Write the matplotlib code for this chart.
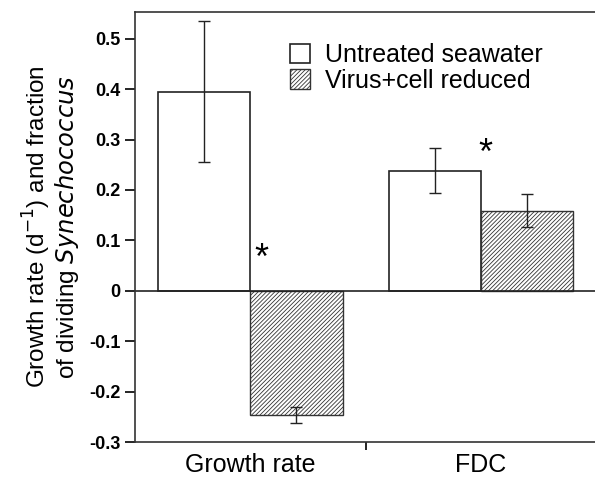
import matplotlib.pyplot as plt
import numpy as np

plt.rcParams['font.family'] = ['Liberation Sans', 'DejaVu Sans']
plt.rcParams['hatch.linewidth'] = 0.6

groups = ['Growth rate', 'FDC']
series = ['Untreated seawater', 'Virus+cell reduced']
untreated = [0.395, 0.238]
untreated_err = [0.14, 0.045]
reduced = [-0.247, 0.159]
reduced_err = [0.016, 0.033]
stars = [(0.05, 0.062), (1.02, 0.27)]

fig = plt.figure(figsize=(5.95, 4.78), dpi=100)
ax = fig.add_axes([0.227, 0.0753, 0.775, 0.8996])

x = np.arange(len(groups))
w = 0.4
ax.bar(x - w / 2, untreated, w, yerr=untreated_err, color='white', edgecolor='#222222',
       linewidth=1.2, capsize=4, error_kw={'elinewidth': 1, 'capthick': 1, 'ecolor': '#222222'},
       label=series[0])
ax.bar(x + w / 2, reduced, w, yerr=reduced_err, color='white', edgecolor='#333333',
       hatch='////////', linewidth=1.0, capsize=4,
       error_kw={'elinewidth': 1, 'capthick': 1, 'ecolor': '#222222'}, label=series[1])
ax.axhline(0, color='#222222', linewidth=1.2)

for sx, sy in stars:
    ax.text(sx, sy, '*', fontsize=26, ha='center', va='center')

ax.set_xlim(-0.5, 1.5)
ax.set_ylim(-0.3, 0.553)
ax.set_yticks([-0.3, -0.2, -0.1, 0, 0.1, 0.2, 0.3, 0.4, 0.5])
ax.set_yticklabels(['-0.3', '-0.2', '-0.1', '0', '0.1', '0.2', '0.3', '0.4', '0.5'],
                   fontsize=13, fontweight='bold')
ax.set_xticks([0.5])
ax.set_xticklabels([''])
ax.tick_params(axis='y', length=7, width=1.2, direction='out')
ax.tick_params(axis='x', length=6, width=1.2, direction='out')
for i, g in enumerate(groups):
    ax.text(i, -0.322, g, fontsize=18, ha='center', va='top')

ax.spines['right'].set_visible(False)
for s in ['left', 'bottom', 'top']:
    ax.spines[s].set_linewidth(1.2)
    ax.spines[s].set_color('#333333')

ax.set_ylabel('Growth rate (d$^{-1}$) and fraction\nof dividing $\\it{Synechococcus}$',
              fontsize=17.5, labelpad=6, linespacing=1.0)

ax.legend(loc='upper left', bbox_to_anchor=(0.315, 0.95), frameon=False, fontsize=18,
          handlelength=0.8, handleheight=0.8, handletextpad=0.6, labelspacing=0.05,
          borderaxespad=0)

fig.savefig('out.png', dpi=100)
